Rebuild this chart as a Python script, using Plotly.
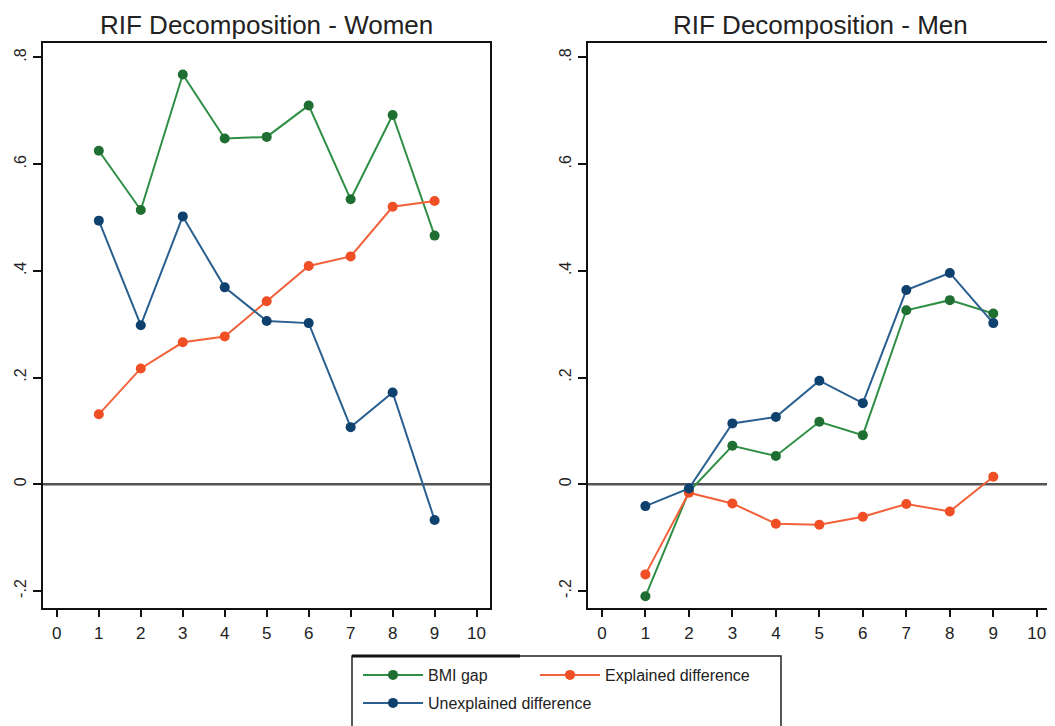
import plotly.graph_objects as go

deciles = [1, 2, 3, 4, 5, 6, 7, 8, 9]

women_gap = [0.625, 0.514, 0.768, 0.648, 0.651, 0.710, 0.534, 0.692, 0.466]
women_explained = [0.131, 0.217, 0.266, 0.277, 0.343, 0.409, 0.427, 0.520, 0.531]
women_unexplained = [0.494, 0.298, 0.502, 0.369, 0.306, 0.302, 0.107, 0.172, -0.067]

men_gap = [-0.210, -0.014, 0.072, 0.053, 0.117, 0.092, 0.326, 0.345, 0.320]
men_explained = [-0.169, -0.016, -0.036, -0.074, -0.076, -0.061, -0.037, -0.051, 0.014]
men_unexplained = [-0.041, -0.008, 0.114, 0.126, 0.194, 0.152, 0.364, 0.396, 0.302]

x_ticks = [0, 1, 2, 3, 4, 5, 6, 7, 8, 9, 10]
y_ticks = [-0.2, 0, 0.2, 0.4, 0.6, 0.8]
y_tick_labels = ["-.2", "0", ".2", ".4", ".6", ".8"]

titles = ["RIF Decomposition - Women", "RIF Decomposition - Men"]
series_names = ["BMI gap", "Explained difference", "Unexplained difference"]

line_colors = ["#2f8f45", "#f2613a", "#2a5f8f"]
marker_colors = ["#1f6e32", "#f04e24", "#0f416f"]

W, H = 1055, 726
OFF = 8  # page body margin offset
FONT = "Liberation Sans, Arial, sans-serif"


def px(v):
    return (v - OFF) / W


def py(v):
    return 1 - (v - OFF) / H


fig = go.Figure()

panels = [
    ("x", "y", [women_gap, women_explained, women_unexplained]),
    ("x2", "y2", [men_gap, men_explained, men_unexplained]),
]
legend_ids = ["legend", "legend2", "legend3"]

for pi, (xa, ya, series) in enumerate(panels):
    for si, vals in enumerate(series):
        fig.add_trace(go.Scatter(
            x=deciles, y=vals, mode="lines+markers",
            name=series_names[si],
            line=dict(color=line_colors[si], width=2),
            marker=dict(color=marker_colors[si], size=10, symbol="circle"),
            xaxis=xa, yaxis=ya,
            showlegend=(pi == 0),
            legend=legend_ids[si],
        ))

# panel frames in screen pixels
left_px = [(43, 490), (588, 1052)]
top_px, bot_px = 43, 608
ydom = [py(bot_px), py(top_px)]
xranges = [[-0.33, 10.32], [-0.32, 10.35]]

axis_common = dict(
    showline=True, linecolor="#111", linewidth=2, mirror=True,
    showgrid=False, zeroline=False, ticks="outside", ticklen=7,
    tickwidth=2, tickcolor="#111",
    tickfont=dict(family=FONT, size=17, color="#222"),
)

for i, (x0, x1) in enumerate(left_px):
    sfx = "" if i == 0 else "2"
    fig.update_layout(**{
        f"xaxis{sfx}": dict(axis_common, domain=[px(x0), px(x1)],
                            range=xranges[i], tickmode="array",
                            tickvals=x_ticks, anchor=f"y{sfx}",
                            ticklabelstandoff=2),
        f"yaxis{sfx}": dict(axis_common, domain=ydom,
                            range=[-0.232, 0.827], tickmode="array",
                            tickvals=y_ticks, ticktext=y_tick_labels,
                            tickangle=-90, ticklen=8,
                            ticklabelstandoff=1,
                            tickfont=dict(family=FONT, size=16, color="#222"),
                            anchor=f"x{sfx}"),
    })
    fig.add_annotation(
        text=titles[i], xref="paper", yref="paper",
        x=px((x0 + x1) / 2), y=py(25), xanchor="center", yanchor="middle",
        showarrow=False, font=dict(family=FONT, size=26, color="#222"),
    )
    # zero reference line
    fig.add_shape(type="line", xref=f"x{sfx} domain", yref=f"y{sfx}",
                  x0=0, x1=1, y0=0, y1=0,
                  line=dict(color="#555", width=2.5), layer="below")

# legend box
fig.add_shape(type="rect", xref="paper", yref="paper",
              x0=px(352), x1=px(781), y0=-0.02, y1=py(656),
              line=dict(color="#222", width=1.5), fillcolor="rgba(0,0,0,0)")
fig.add_shape(type="line", xref="paper", yref="paper",
              x0=px(352), x1=px(520), y0=py(656), y1=py(656),
              line=dict(color="#111", width=3))

legend_font = dict(family=FONT, size=16, color="#222")
legend_common = dict(orientation="h", xanchor="left", yanchor="middle",
                     font=legend_font, bgcolor="rgba(0,0,0,0)", itemwidth=60)
fig.update_layout(
    width=W, height=H,
    margin=dict(l=0, r=0, t=0, b=0, autoexpand=False),
    paper_bgcolor="white", plot_bgcolor="white",
    legend=dict(legend_common, x=px(358), y=py(675)),
    legend2=dict(legend_common, x=px(535), y=py(675)),
    legend3=dict(legend_common, x=px(358), y=py(703)),
)

fig.write_html("out.html")
